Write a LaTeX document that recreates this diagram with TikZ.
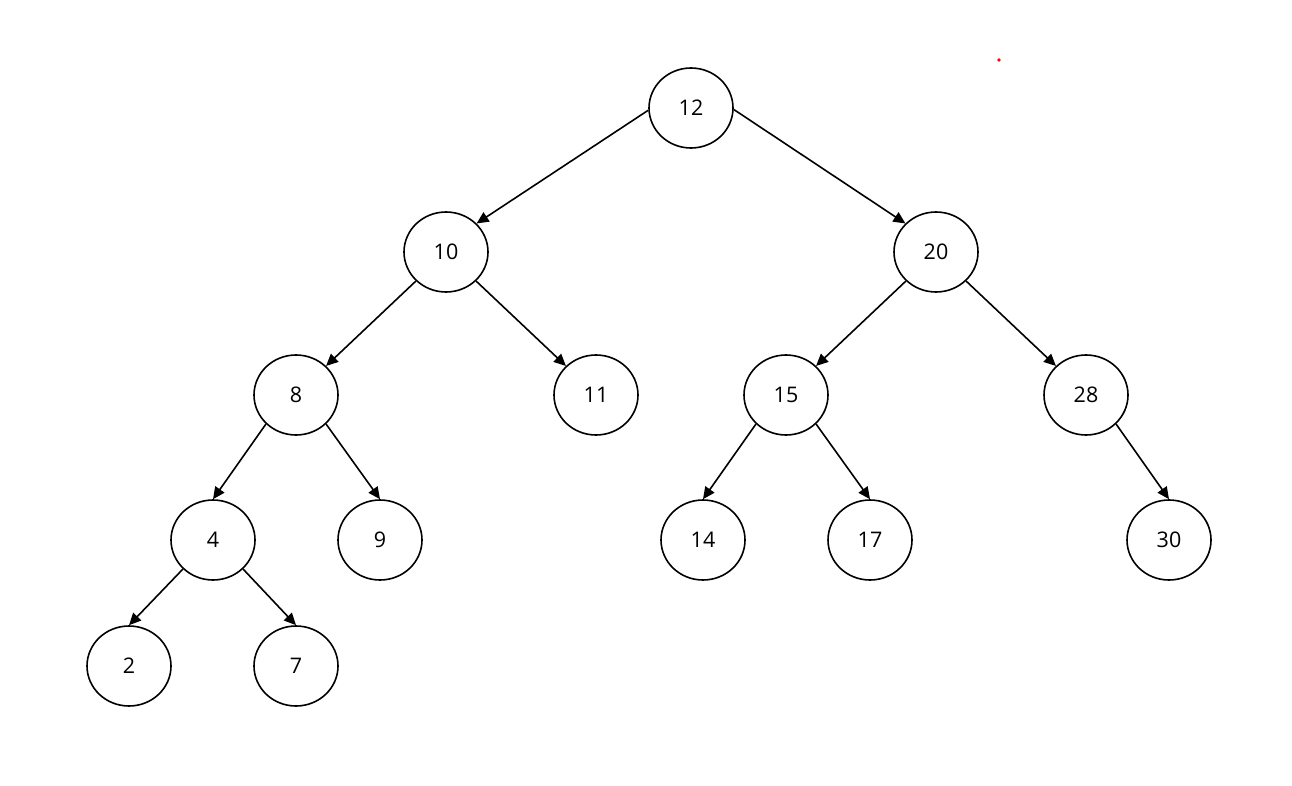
\documentclass[tikz,border=0pt]{standalone}
\usepackage{fontspec}
\setmainfont{Open Sans}
\usetikzlibrary{arrows.meta,shapes.geometric}
\tikzset{
  tn/.style={draw, line width=1.6pt, ellipse, minimum width=84pt, minimum height=80pt, inner sep=0pt, font=\fontsize{21.5}{24}\selectfont},
  ed/.style={line width=1.6pt, -{Triangle[length=12pt,width=11pt]}}
}
\begin{document}
\begin{tikzpicture}[x=1pt,y=-1pt]
\useasboundingbox (0,0) rectangle (1292,786);
\node[tn] (n12) at (691,108) {12};
\node[tn] (n10) at (446,252) {10};
\node[tn] (n20) at (936,252) {20};
\node[tn] (n8) at (296,395) {8};
\node[tn] (n11) at (596,395) {11};
\node[tn] (n15) at (786,395) {15};
\node[tn] (n28) at (1086,395) {28};
\node[tn] (n4) at (213,540) {4};
\node[tn] (n9) at (380,540) {9};
\node[tn] (n14) at (703,540) {14};
\node[tn] (n17) at (870,540) {17};
\node[tn] (n30) at (1169,540) {30};
\node[tn] (n2) at (129,666) {2};
\node[tn] (n7) at (296,666) {7};
\draw[ed] (n12.183) -- (n10.43);
\draw[ed] (n12.-2) -- (n20.137);
\draw[ed] (n10.224) -- (n8.44);
\draw[ed] (n10.316) -- (n11.136);
\draw[ed] (n20.224) -- (n15.44);
\draw[ed] (n20.316) -- (n28.136);
\draw[ed] (n8.224) -- (n4.north);
\draw[ed] (n8.316) -- (n9.north);
\draw[ed] (n15.224) -- (n14.north);
\draw[ed] (n15.316) -- (n17.north);
\draw[ed] (n28.316) -- (n30.north);
\draw[ed] (n4.224) -- (n2.north);
\draw[ed] (n4.316) -- (n7.north);
\fill[red] (999,60) circle (1.8pt);
\end{tikzpicture}
\end{document}
